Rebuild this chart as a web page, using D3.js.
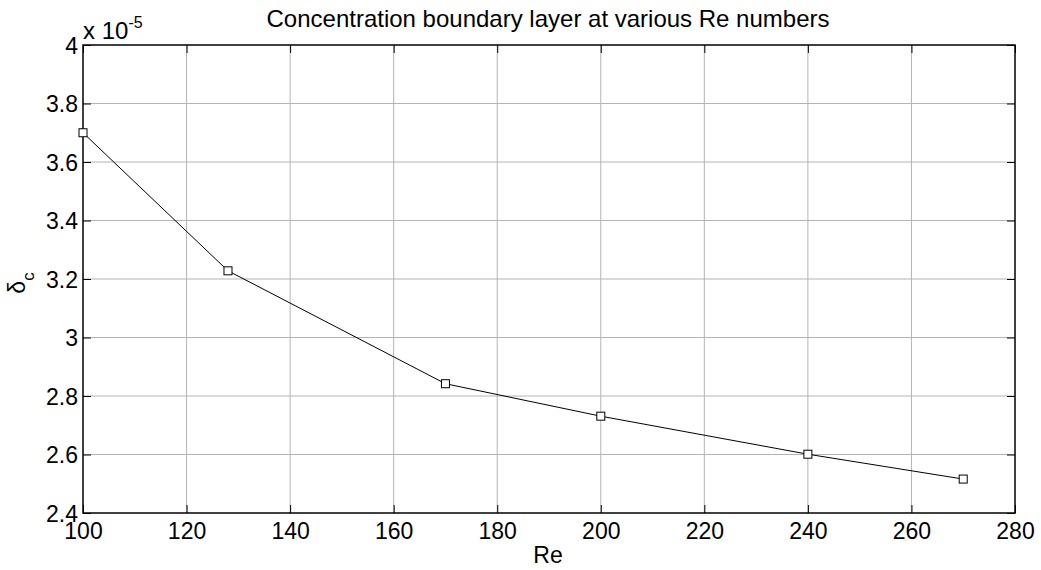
<!DOCTYPE html>
<html><head><meta charset="utf-8">
<script src="https://cdn.jsdelivr.net/npm/d3@7"></script>
<style>body{margin:0;background:#fff}svg{display:block}text{font-family:Arial,"Liberation Sans",sans-serif;fill:#000}</style>
</head><body><svg id="c" width="1041" height="570"></svg>
<script>
const reValues = [100, 128, 170, 200, 240, 270];
const deltaC = [3.70, 3.228, 2.842, 2.731, 2.601, 2.516];
const xTicks = [100,120,140,160,180,200,220,240,260,280];
const yTicks = [2.4,2.6,2.8,3,3.2,3.4,3.6,3.8,4];
const title = "Concentration boundary layer at various Re numbers";

(function(){
const svg = d3.select("#c");
const L=83, R=1015, T=45, B=513;
const x = d3.scaleLinear().domain([100,280]).range([L,R]);
const y = d3.scaleLinear().domain([2.4,4]).range([B,T]);
const fmt = d => String(d);
const FS = 23;

svg.append("g").selectAll("line").data(xTicks.slice(1,-1)).join("line")
  .attr("x1",d=>x(d)).attr("x2",d=>x(d)).attr("y1",T).attr("y2",B)
  .attr("stroke","#b4b4b4").attr("stroke-width",1);
svg.append("g").selectAll("line").data(yTicks.slice(1,-1)).join("line")
  .attr("y1",d=>y(d)).attr("y2",d=>y(d)).attr("x1",L).attr("x2",R)
  .attr("stroke","#b4b4b4").attr("stroke-width",1);

const tl = 8;
const gBottom = svg.append("g").attr("transform",`translate(0,${B})`)
  .call(d3.axisBottom(x).tickValues(xTicks).tickFormat(fmt).tickSizeInner(-tl).tickSizeOuter(0));
const gTop = svg.append("g").attr("transform",`translate(0,${T})`)
  .call(d3.axisTop(x).tickValues(xTicks).tickFormat("").tickSizeInner(-tl).tickSizeOuter(0));
const gLeft = svg.append("g").attr("transform",`translate(${L},0)`)
  .call(d3.axisLeft(y).tickValues(yTicks).tickFormat(fmt).tickSizeInner(-tl).tickSizeOuter(0));
const gRight = svg.append("g").attr("transform",`translate(${R},0)`)
  .call(d3.axisRight(y).tickValues(yTicks).tickFormat("").tickSizeInner(-tl).tickSizeOuter(0));
[gBottom,gTop,gLeft,gRight].forEach(g=>{
  g.select(".domain").remove();
  g.selectAll("line").attr("stroke","#000");
  g.selectAll("text").attr("font-size",FS).attr("font-family","Arial, 'Liberation Sans', sans-serif").attr("fill","#000");
});
gBottom.selectAll("text").attr("dy",null).attr("y",26);
gLeft.selectAll("text").attr("x",-5).attr("dy","0.36em");

svg.append("rect").attr("x",L).attr("y",T).attr("width",R-L).attr("height",B-T)
  .attr("fill","none").attr("stroke","#000").attr("stroke-width",1.5);

const pts = reValues.map((r,i)=>[r,deltaC[i]]);
svg.append("path").datum(pts)
  .attr("d", d3.line().x(d=>x(d[0])).y(d=>y(d[1])))
  .attr("fill","none").attr("stroke","#000").attr("stroke-width",1);
svg.append("g").selectAll("rect").data(pts).join("rect")
  .attr("x",d=>x(d[0])-4).attr("y",d=>y(d[1])-4).attr("width",8).attr("height",8)
  .attr("fill","#fff").attr("stroke","#000").attr("stroke-width",1);

svg.append("text").attr("x",548).attr("y",27).attr("text-anchor","middle").attr("font-size",24).text(title);
svg.append("text").attr("x",548).attr("y",563).attr("text-anchor","middle").attr("font-size",FS).text("Re");
const mult = svg.append("text").attr("x",83).attr("y",39).attr("font-size",24);
mult.append("tspan").text("x 10");
mult.append("tspan").attr("font-size",16).attr("dy",-11).text("-5");
const yl = svg.append("text").attr("transform","translate(25,283) rotate(-90)").attr("text-anchor","middle").attr("font-size",FS);
yl.append("tspan").text("δ");
yl.append("tspan").attr("font-size",17).attr("dy",9).text("c");
})();
</script></body></html>
